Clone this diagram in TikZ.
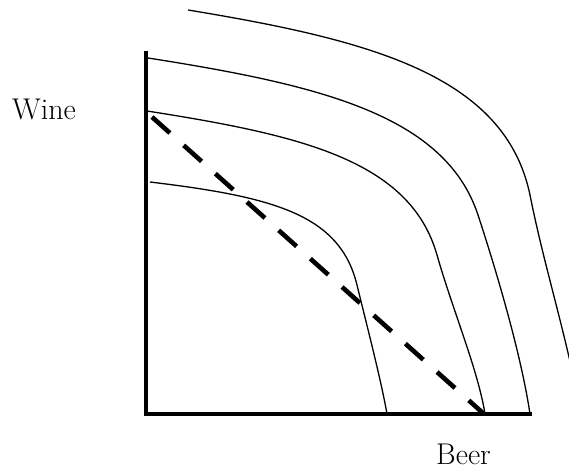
\documentclass[tikz,border=0pt]{standalone}
\begin{document}
\begin{tikzpicture}[x=1pt,y=-1pt,
  axis/.style={line width=3.6pt,line join=miter},
  curve/.style={line width=1.3pt},
  budget/.style={line width=4.6pt,dash pattern=on 24pt off 18.5pt},
  lbl/.style={inner sep=0pt,font=\fontsize{30}{33}\selectfont}]
\useasboundingbox (0,0) rectangle (569,470);
\begin{scope}
\clip (0,0) rectangle (569,470);
% axes
\coordinate (top) at (146,51);
\coordinate (orig) at (146,414);
\coordinate (xend) at (532,414);
\draw[axis] (top) -- (orig) -- (xend);
% curves
\draw[curve] (150,182) .. controls (275,197) and (340,215) .. (357,285)
  .. controls (368,330) and (381,380) .. (387,414);
\draw[curve] (147,111) .. controls (300,135) and (410,160) .. (437,255)
  .. controls (453,311) and (478,370) .. (485,414);
\draw[curve] (148,58) .. controls (320,85) and (445,115) .. (478,215)
  .. controls (500,282) and (522,360) .. (530,414);
\draw[curve] (188,10) .. controls (370,40) and (505,75) .. (530,195)
  .. controls (542,255) and (556,300) .. (572,370);
% budget line
\coordinate (bA) at (152,117);
\coordinate (bB) at (484,414);
\draw[budget] (bA) -- (bB);
\end{scope}
\node[lbl,anchor=base west] (wine) at (12,120) {Wine};
\node[lbl,anchor=base west] (beer) at (436,464) {Beer};
\end{tikzpicture}
\end{document}
